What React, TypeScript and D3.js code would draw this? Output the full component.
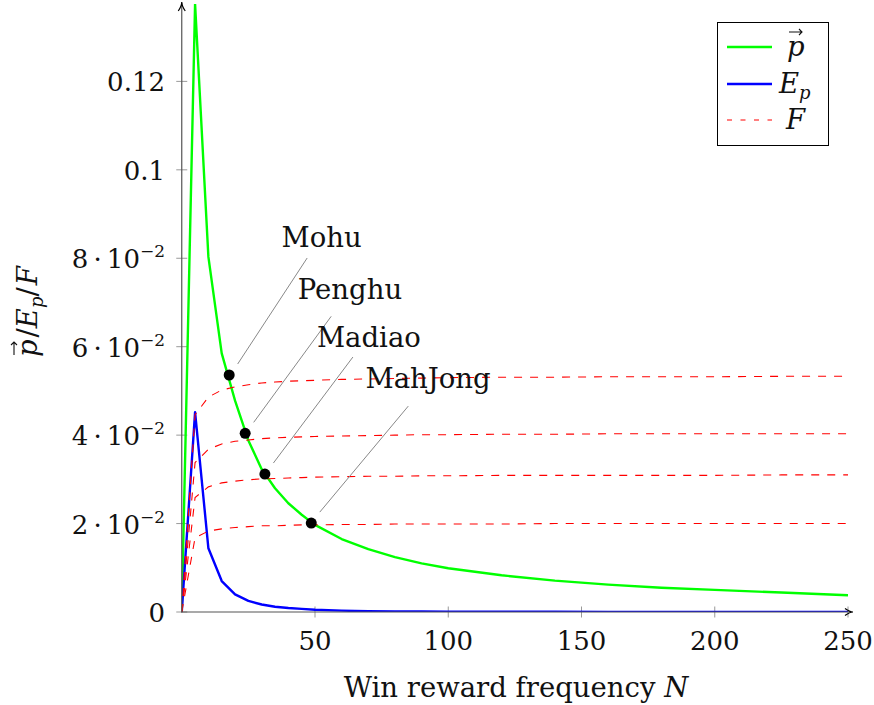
import React from "react";
import * as d3 from "d3";

// ---- data ----
const N = [0, 5, 10, 15, 20, 25, 30, 35, 40, 45, 50, 60, 70, 80, 90, 100, 120, 140, 160, 180, 200, 225, 250];
const pValues = [0, 0.1375, 0.0803, 0.0585, 0.0478, 0.0388, 0.0323, 0.028, 0.0246, 0.022, 0.0197, 0.0165, 0.0142, 0.0124, 0.011, 0.0099, 0.0083, 0.0071, 0.0062, 0.0055, 0.005, 0.0044, 0.0038];
const epValues = [0, 0.0452, 0.0144, 0.007, 0.004, 0.0025, 0.0017, 0.0012, 0.0009, 0.0007, 0.0005, 0.0003, 0.0002, 0.00015, 0.0001, 0.00008, 0.00005, 0.00004, 0.00003, 0.00002, 0.00002, 0.00001, 0.00001];
const fMohu = [0, 0.0446, 0.0486, 0.0502, 0.0509, 0.0514, 0.0518, 0.052, 0.0522, 0.0523, 0.0524, 0.0526, 0.0527, 0.0528, 0.0529, 0.053, 0.0531, 0.0531, 0.0532, 0.0532, 0.0532, 0.0533, 0.0533];
const fPenghu = [0, 0.0338, 0.0368, 0.038, 0.0386, 0.0389, 0.0392, 0.0394, 0.0395, 0.0396, 0.0397, 0.0398, 0.0399, 0.04, 0.0401, 0.0401, 0.0402, 0.0402, 0.0403, 0.0403, 0.0403, 0.0403, 0.0403];
const fMadiao = [0, 0.0259, 0.0283, 0.0292, 0.0296, 0.0299, 0.0301, 0.0302, 0.0303, 0.0304, 0.0305, 0.0306, 0.0307, 0.0307, 0.0308, 0.0308, 0.0309, 0.0309, 0.0309, 0.0309, 0.0309, 0.031, 0.031];
const fMahJong = [0, 0.0168, 0.0183, 0.0188, 0.0191, 0.0193, 0.0195, 0.0195, 0.0196, 0.0197, 0.0197, 0.0198, 0.0198, 0.0199, 0.0199, 0.0199, 0.0199, 0.02, 0.02, 0.02, 0.02, 0.02, 0.02];

const pointNames = ["Mohu", "Penghu", "Madiao", "MahJong"];
const pointN = [17.8, 23.8, 31.2, 48.6];
const pointP = [0.0536, 0.0404, 0.0312, 0.0201];

const xTicks = [50, 100, 150, 200, 250];
const yTickValues = [0, 0.02, 0.04, 0.06, 0.08, 0.1, 0.12];
const yTickMantissa = ["0", "2", "4", "6", "8", "0.1", "0.12"];
const yTickSci = [false, true, true, true, true, false, false];

// ---- layout ----
const W = 874;
const H = 705;
const X0 = 181.75;
const X1 = 848;
const Y0 = 612;
const Y1 = 4;
const FONT = "'DejaVu Serif', serif";
const FS = 27.5;
const TFS = 26;
const SUP = 17;
// pin geometry relative to the dot (px)
const pinLayout = [
  { ex: 78, lx: 92.5, ly: -128 },
  { ex: 86, lx: 104.8, ly: -134.4 },
  { ex: 88, lx: 104, ly: -127 },
  { ex: 97, lx: 116.8, ly: -135 },
];

export default function App() {
  const x = d3.scaleLinear().domain([0, 250]).range([X0, X1]);
  const y = d3.scaleLinear().domain([0, 0.1375]).range([Y0, Y1]);
  const line = d3
    .line<number>()
    .x((_, i) => x(N[i]))
    .y((d) => y(d));

  const fSeries = [fMohu, fPenghu, fMadiao, fMahJong];

  return (
    <svg width={W} height={H} viewBox={`0 0 ${W} ${H}`} style={{ position: "absolute", left: 0, top: 0, background: "#fff", fontFamily: FONT }}>
      <defs>
        <clipPath id="plotclip">
          <rect x={X0} y={Y1} width={X1 - X0} height={Y0 - Y1} />
        </clipPath>
      </defs>
      <rect width={W} height={H} fill="#fff" />

      {xTicks.map((t) => (
        <line key={"xt" + t} x1={x(t)} x2={x(t)} y1={Y0 - 5.5} y2={Y0 + 5.5} stroke="#999" strokeWidth={1} />
      ))}
      {yTickValues.map((t) => (
        <line key={"yt" + t} x1={X0 - 5.5} x2={X0 + 5.5} y1={y(t)} y2={y(t)} stroke="#999" strokeWidth={1} />
      ))}

      <g clipPath="url(#plotclip)">
        <path d={line(pValues) || ""} fill="none" stroke="#00ff00" strokeWidth={2.4} strokeLinejoin="round" />
        <path d={line(epValues) || ""} fill="none" stroke="#0000ff" strokeWidth={2.4} strokeLinejoin="round" />
        {fSeries.map((s, k) => (
          <path key={"f" + k} d={line(s) || ""} fill="none" stroke="#ff0000" strokeWidth={1.1} strokeDasharray="8,8" />
        ))}
      </g>

      <line x1={X0} x2={X0} y1={Y0 + 0.5} y2={Y1 - 1} stroke="#555" strokeWidth={1.2} />
      <path d={`M${X0 - 3.5},${Y1 + 7} Q${X0},${Y1 + 2} ${X0},${Y1 - 2} Q${X0},${Y1 + 2} ${X0 + 3.5},${Y1 + 7}`} fill="none" stroke="#000" strokeWidth={1.2} />
      <line x1={X0 - 0.5} x2={X1 + 3} y1={Y0} y2={Y0} stroke="#555" strokeWidth={1.2} />
      <path d={`M${X1 - 3},${Y0 - 3.5} Q${X1 + 2},${Y0} ${X1 + 5},${Y0} Q${X1 + 2},${Y0} ${X1 - 3},${Y0 + 3.5}`} fill="none" stroke="#000" strokeWidth={1.2} />

      {pointNames.map((name, i) => {
        const px = x(pointN[i]);
        const py = y(pointP[i]);
        const L = pinLayout[i];
        return (
          <g key={name}>
            <line x1={px + 8.5} y1={py - 11} x2={px + L.ex} y2={py - 117} stroke="#888" strokeWidth={1} />
            <text x={px + L.lx} y={py + L.ly} textAnchor="middle" fontFamily={FONT} fontSize={FS} fill="#111">
              {name}
            </text>
            <circle cx={px} cy={py} r={5.5} fill="#000" />
          </g>
        );
      })}

      {xTicks.map((t) => (
        <text key={"xl" + t} x={x(t)} y={650} textAnchor="middle" fontFamily={FONT} fontSize={TFS} fill="#111">
          {t}
        </text>
      ))}
      {yTickValues.map((t, i) => (
        <text key={"yl" + t} x={165} y={y(t) + 10} textAnchor="end" fontFamily={FONT} fontSize={TFS} fill="#111">
          {yTickSci[i] ? (
            <>
              <tspan>{yTickMantissa[i] + "\u2009·\u200910"}</tspan>
              <tspan dy={-11} fontSize={SUP}>
                −2
              </tspan>
            </>
          ) : (
            yTickMantissa[i]
          )}
        </text>
      ))}

      <text x={516} y={697} textAnchor="middle" fontFamily={FONT} fontSize={FS} fill="#111">
        Win reward frequency <tspan fontStyle="italic">N</tspan>
      </text>

      <g transform="translate(37,306) rotate(-90)">
        <text x={-51} y={0} fontFamily={FONT} fontSize={FS} fill="#111">
          <tspan fontStyle="italic">p</tspan>
          <tspan dx={2}>/</tspan>
          <tspan fontStyle="italic">E</tspan>
          <tspan fontStyle="italic" fontSize={18} dy={6}>
            p
          </tspan>
          <tspan dy={-6}>/</tspan>
          <tspan fontStyle="italic" dx={2}>F</tspan>
        </text>
        <path d="M-49,-23 L-36,-23 M-39,-26 L-36,-23 L-39,-20" fill="none" stroke="#111" strokeWidth={1.1} />
      </g>

      <rect x={717.5} y={22.5} width={111} height={123} fill="#fff" stroke="#000" strokeWidth={1} />
      <line x1={727} x2={772} y1={47} y2={47} stroke="#00ff00" strokeWidth={2.4} />
      <line x1={727} x2={772} y1={84} y2={84} stroke="#0000ff" strokeWidth={2.4} />
      <line x1={727} x2={772} y1={120} y2={120} stroke="#ff0000" strokeWidth={1.1} strokeDasharray="5,8.5" />
      <text x={787} y={56} fontFamily={FONT} fontSize={FS} fontStyle="italic" fill="#111">
        p
      </text>
      <path d="M789,32 L802,32 M799,29 L802,32 L799,35" fill="none" stroke="#111" strokeWidth={1.1} />
      <text x={779} y={93} fontFamily={FONT} fontSize={FS} fill="#111">
        <tspan fontStyle="italic">E</tspan>
        <tspan fontStyle="italic" fontSize={18} dy={6}>
          p
        </tspan>
      </text>
      <text x={786} y={129} fontFamily={FONT} fontSize={FS} fontStyle="italic" fill="#111">
        F
      </text>
    </svg>
  );
}
